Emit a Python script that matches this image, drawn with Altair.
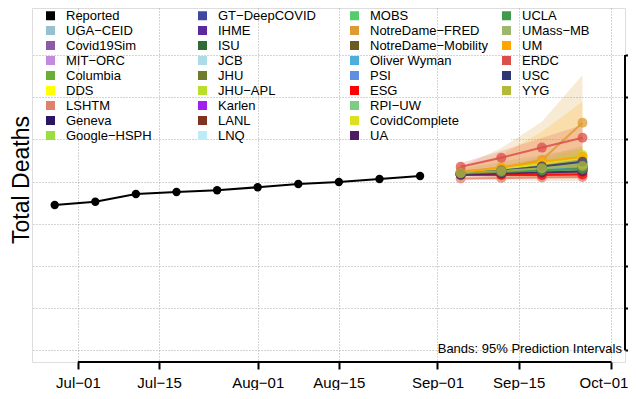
import altair as alt
import pandas as pd

# ---------------- data ----------------
reported_dates = ["2020-06-27", "2020-07-04", "2020-07-11", "2020-07-18", "2020-07-25",
                  "2020-08-01", "2020-08-08", "2020-08-15", "2020-08-22", "2020-08-29"]
reported_deaths = [6890, 7045, 7410, 7505, 7585, 7730, 7885, 7980, 8120, 8265]

forecast_dates = ["2020-09-05", "2020-09-12", "2020-09-19", "2020-09-26"]

fc_mid = {
    "LSHTM": [8150, 8170, 8190, 8220],
    "Geneva": [8340, 8430, 8520, 8620],
    "Covid19Sim": [8360, 8410, 8450, 8500],
    "Columbia": [8410, 8500, 8600, 8690],
    "GT-DeepCOVID": [8360, 8430, 8500, 8570],
    "IHME": [8380, 8480, 8570, 8660],
    "JHU": [8360, 8450, 8520, 8600],
    "JHU-APL": [8410, 8570, 8880, 9260],
    "Karlen": [8380, 8500, 8620, 8740],
    "LANL": [8360, 8430, 8500, 8570],
    "MOBS": [8410, 8520, 8640, 8760],
    "NotreDame-FRED": [8480, 8640, 9020, 10790],
    "NotreDame-Mobility": [8360, 8450, 8550, 8640],
    "Oliver Wyman": [8380, 8480, 8600, 8690],
    "PSI": [8410, 8520, 8640, 8790],
    "ESG": [8310, 8310, 8310, 8340],
    "RPI-UW": [8360, 8430, 8500, 8570],
    "CovidComplete": [8410, 8600, 8830, 9120],
    "UA": [8340, 8380, 8430, 8480],
    "UCLA": [8380, 8450, 8520, 8600],
    "UMass-MB": [8410, 8550, 8690, 8830],
    "UM": [8420, 8680, 8940, 9180],
    "ERDC": [8700, 9130, 9610, 10080],
    "USC": [8360, 8520, 8710, 8940],
    "YYG": [8390, 8500, 8630, 8740],
}
fc_lo = {
    "LSHTM": [8090, 8060, 8040, 8020],
    "Geneva": [8270, 8320, 8380, 8430],
    "Covid19Sim": [8300, 8310, 8320, 8330],
    "Columbia": [8340, 8380, 8420, 8460],
    "GT-DeepCOVID": [8290, 8320, 8350, 8380],
    "IHME": [8330, 8390, 8440, 8490],
    "JHU": [8290, 8330, 8360, 8390],
    "JHU-APL": [8330, 8420, 8600, 8790],
    "Karlen": [8320, 8390, 8450, 8520],
    "LANL": [8300, 8330, 8360, 8390],
    "MOBS": [8330, 8380, 8430, 8480],
    "NotreDame-FRED": [8260, 8240, 8220, 8190],
    "NotreDame-Mobility": [8280, 8300, 8320, 8340],
    "Oliver Wyman": [8320, 8380, 8440, 8490],
    "PSI": [8340, 8400, 8460, 8520],
    "ESG": [8250, 8220, 8200, 8180],
    "RPI-UW": [8300, 8340, 8370, 8400],
    "CovidComplete": [8340, 8450, 8580, 8700],
    "UA": [8280, 8280, 8290, 8300],
    "UCLA": [8320, 8350, 8380, 8410],
    "UMass-MB": [8260, 8220, 8170, 8120],
    "UM": [8260, 8260, 8240, 8220],
    "ERDC": [8420, 8640, 8880, 9120],
    "USC": [8300, 8400, 8500, 8600],
    "YYG": [8320, 8360, 8400, 8430],
}
fc_hi = {
    "LSHTM": [8260, 8310, 8360, 8400],
    "Geneva": [8420, 8540, 8670, 8800],
    "Covid19Sim": [8430, 8520, 8600, 8690],
    "Columbia": [8480, 8630, 8780, 8930],
    "GT-DeepCOVID": [8430, 8540, 8650, 8760],
    "IHME": [8440, 8580, 8710, 8850],
    "JHU": [8440, 8580, 8710, 8830],
    "JHU-APL": [8490, 8720, 9160, 9700],
    "Karlen": [8450, 8610, 8790, 8960],
    "LANL": [8420, 8530, 8640, 8750],
    "MOBS": [8490, 8670, 8860, 9060],
    "NotreDame-FRED": [8700, 9590, 10840, 13050],
    "NotreDame-Mobility": [8440, 8620, 8800, 8990],
    "Oliver Wyman": [8440, 8580, 8760, 8900],
    "PSI": [8480, 8650, 8830, 9060],
    "ESG": [8380, 8420, 8460, 8500],
    "RPI-UW": [8420, 8520, 8630, 8740],
    "CovidComplete": [8480, 8750, 9090, 9550],
    "UA": [8400, 8480, 8570, 8660],
    "UCLA": [8440, 8560, 8670, 8790],
    "UMass-MB": [8600, 8930, 9260, 9590],
    "UM": [8640, 9260, 10360, 11790],
    "ERDC": [8880, 9450, 10070, 10680],
    "USC": [8430, 8650, 8930, 9300],
    "YYG": [8460, 8640, 8860, 9060],
}

# legend, in the reference's column order (last column padded with blank slots)
legend_columns = [
    ["Reported", "UGA-CEID", "Covid19Sim", "MIT-ORC", "Columbia", "DDS", "LSHTM", "Geneva", "Google-HSPH"],
    ["GT-DeepCOVID", "IHME", "ISU", "JCB", "JHU", "JHU-APL", "Karlen", "LANL", "LNQ"],
    ["MOBS", "NotreDame-FRED", "NotreDame-Mobility", "Oliver Wyman", "PSI", "ESG", "RPI-UW", "CovidComplete", "UA"],
    ["UCLA", "UMass-MB", "UM", "ERDC", "USC", "YYG", " ", "  ", "   "],
]
model_colors = {
    "Reported": "#000000", "UGA-CEID": "#97C1CF", "Covid19Sim": "#8B5BA7", "MIT-ORC": "#C38BE0",
    "Columbia": "#6AAE35", "DDS": "#FFFF00", "LSHTM": "#E0826B", "Geneva": "#2A1664",
    "Google-HSPH": "#9ADE40", "GT-DeepCOVID": "#3F48A0", "IHME": "#5A2A9E", "ISU": "#2E6B36",
    "JCB": "#ADDCE9", "JHU": "#6E7C2B", "JHU-APL": "#BADE2B", "Karlen": "#A020F0",
    "LANL": "#80341F", "LNQ": "#BDEBF7", "MOBS": "#55CC6A", "NotreDame-FRED": "#DE9B31",
    "NotreDame-Mobility": "#6B5A22", "Oliver Wyman": "#4BAEDC", "PSI": "#5F8FE0", "ESG": "#FF0000",
    "RPI-UW": "#7ECB84", "CovidComplete": "#DDE01C", "UA": "#4E1C63", "UCLA": "#3F9A4E",
    "UMass-MB": "#9DB86E", "UM": "#FFA500", "ERDC": "#DB4E4B", "USC": "#2E3675", "YYG": "#B3B93A",
    " ": "#FFFFFF", "  ": "#FFFFFF", "   ": "#FFFFFF",
}

y_ticks = [0, 2000, 4000, 6000, 8000, 10000, 12000, 14000]
x_tick_dates = [(2020, 7, 1), (2020, 7, 15), (2020, 8, 1), (2020, 8, 15),
                (2020, 9, 1), (2020, 9, 15), (2020, 10, 1)]

# ---------------- build tables ----------------
legend_domain = [m for col in legend_columns for m in col]   # column-major, as in the reference
legend_range = [model_colors[m] for m in legend_domain]
draw_order = [m for m in legend_domain if m in fc_mid]
rows = []
for m in draw_order:
    for i, d in enumerate(forecast_dates):
        rows.append({"model": m, "date": d, "mid": fc_mid[m][i], "lo": fc_lo[m][i], "hi": fc_hi[m][i]})
fc = pd.DataFrame(rows)
rep = pd.DataFrame({"date": reported_dates, "deaths": reported_deaths})

W, H = 593, 354
FONT = "Liberation Sans"

def dt(y, m, d, h=0):
    return alt.DateTime(year=y, month=m, date=d, hours=h, utc=True)

x_scale = alt.Scale(type="utc", domain=[dt(2020, 6, 23, 2), dt(2020, 10, 3, 8)], nice=False)
y_scale = alt.Scale(domain=[-555, 16228], nice=False, zero=False)
color_scale = alt.Scale(domain=legend_domain, range=legend_range)

x_axis = alt.Axis(values=[dt(*t) for t in x_tick_dates], domain=False, grid=True,
                  gridDash=[1, 2], gridColor="#a8a8a8", gridWidth=1,
                  tickColor="black", tickWidth=2, tickSize=7, labelFontSize=15, labelFont=FONT,
                  labelColor="black", labelPadding=6, title=None,
                  labelOffset={"condition": {"test": "utcmonth(datum.value) == 9", "value": -8}, "value": 0},
                  labelExpr="utcFormat(datum.value, '%b') + '\u2212' + utcFormat(datum.value, '%d')")
y_axis = alt.Axis(orient="right", values=y_ticks, labels=False, domain=False, grid=True,
                  gridDash=[1, 2], gridColor="#a8a8a8", gridWidth=1,
                  tickColor="black", tickWidth=2, tickSize=4, title=None)

legend = alt.Legend(orient="none", legendX=12, legendY=1, columns=4, gridAlign="all",
                    symbolType="square", symbolSize=81, symbolStrokeWidth=0, symbolOpacity=1,
                    symbolLimit=60,
                    labelFontSize=13, labelFont=FONT, labelColor="black", labelOffset=9,
                    rowPadding=1.0, columnPadding=11, title=None,
                    labelExpr="replace(datum.label, '-', '\u2212')")

X = alt.X("date:T", scale=x_scale, axis=x_axis)

bands = alt.Chart(fc).mark_area(opacity=0.2).encode(
    x=X,
    y=alt.Y("lo:Q", scale=y_scale, axis=y_axis),
    y2="hi:Q",
    color=alt.Color("model:N", scale=color_scale, legend=None),
    detail="model:N",
)
lines = alt.Chart(fc).mark_line(strokeWidth=2, opacity=0.85).encode(
    x=X,
    y=alt.Y("mid:Q", scale=y_scale, axis=y_axis),
    color=alt.Color("model:N", scale=color_scale, legend=None),
)
points = alt.Chart(fc).mark_circle(size=100, opacity=0.75).encode(
    x=X,
    y=alt.Y("mid:Q", scale=y_scale, axis=y_axis),
    color=alt.Color("model:N", scale=color_scale, legend=legend),
)
rep_line = alt.Chart(rep).mark_line(color="black", strokeWidth=2).encode(
    x=X, y=alt.Y("deaths:Q", scale=y_scale, axis=y_axis))
rep_pts = alt.Chart(rep).mark_circle(color="black", size=70, opacity=1).encode(
    x=X, y=alt.Y("deaths:Q", scale=y_scale, axis=y_axis))

# detached R-style axis lines
xline = alt.Chart(pd.DataFrame({"a": ["2020-07-01"], "b": ["2020-10-01"]})).mark_rule(
    color="black", strokeWidth=2).encode(x=alt.X("a:T", scale=x_scale), x2="b:T", y=alt.value(H))
yline = alt.Chart(pd.DataFrame({"a": [y_ticks[0]], "b": [y_ticks[-1]]})).mark_rule(
    color="black", strokeWidth=2).encode(y=alt.Y("a:Q", scale=y_scale), y2="b:Q", x=alt.value(W))

ytitle = alt.Chart(pd.DataFrame({"t": ["Total Deaths"]})).mark_text(
    angle=270, fontSize=23, font=FONT, color="black", align="center", baseline="alphabetic").encode(
    text="t:N", x=alt.value(-3), y=alt.value(172))
note = alt.Chart(pd.DataFrame({"t": ["Bands: 95% Prediction Intervals"]})).mark_text(
    fontSize=13, font=FONT, color="black", align="right", baseline="middle").encode(
    text="t:N", x=alt.value(W - 3), y=alt.value(341))

chart = alt.layer(bands, lines, points, rep_line, rep_pts, xline, yline, ytitle, note).resolve_legend(
    color="independent"
).properties(
    width=W, height=H,
    autosize=alt.AutoSizeParams(type="none"),
    padding={"left": 24, "right": 3, "top": 0, "bottom": 28},
).configure_view(stroke=None).configure(background="white")

chart.save("out.html", embed_options={"renderer": "svg", "actions": False})
